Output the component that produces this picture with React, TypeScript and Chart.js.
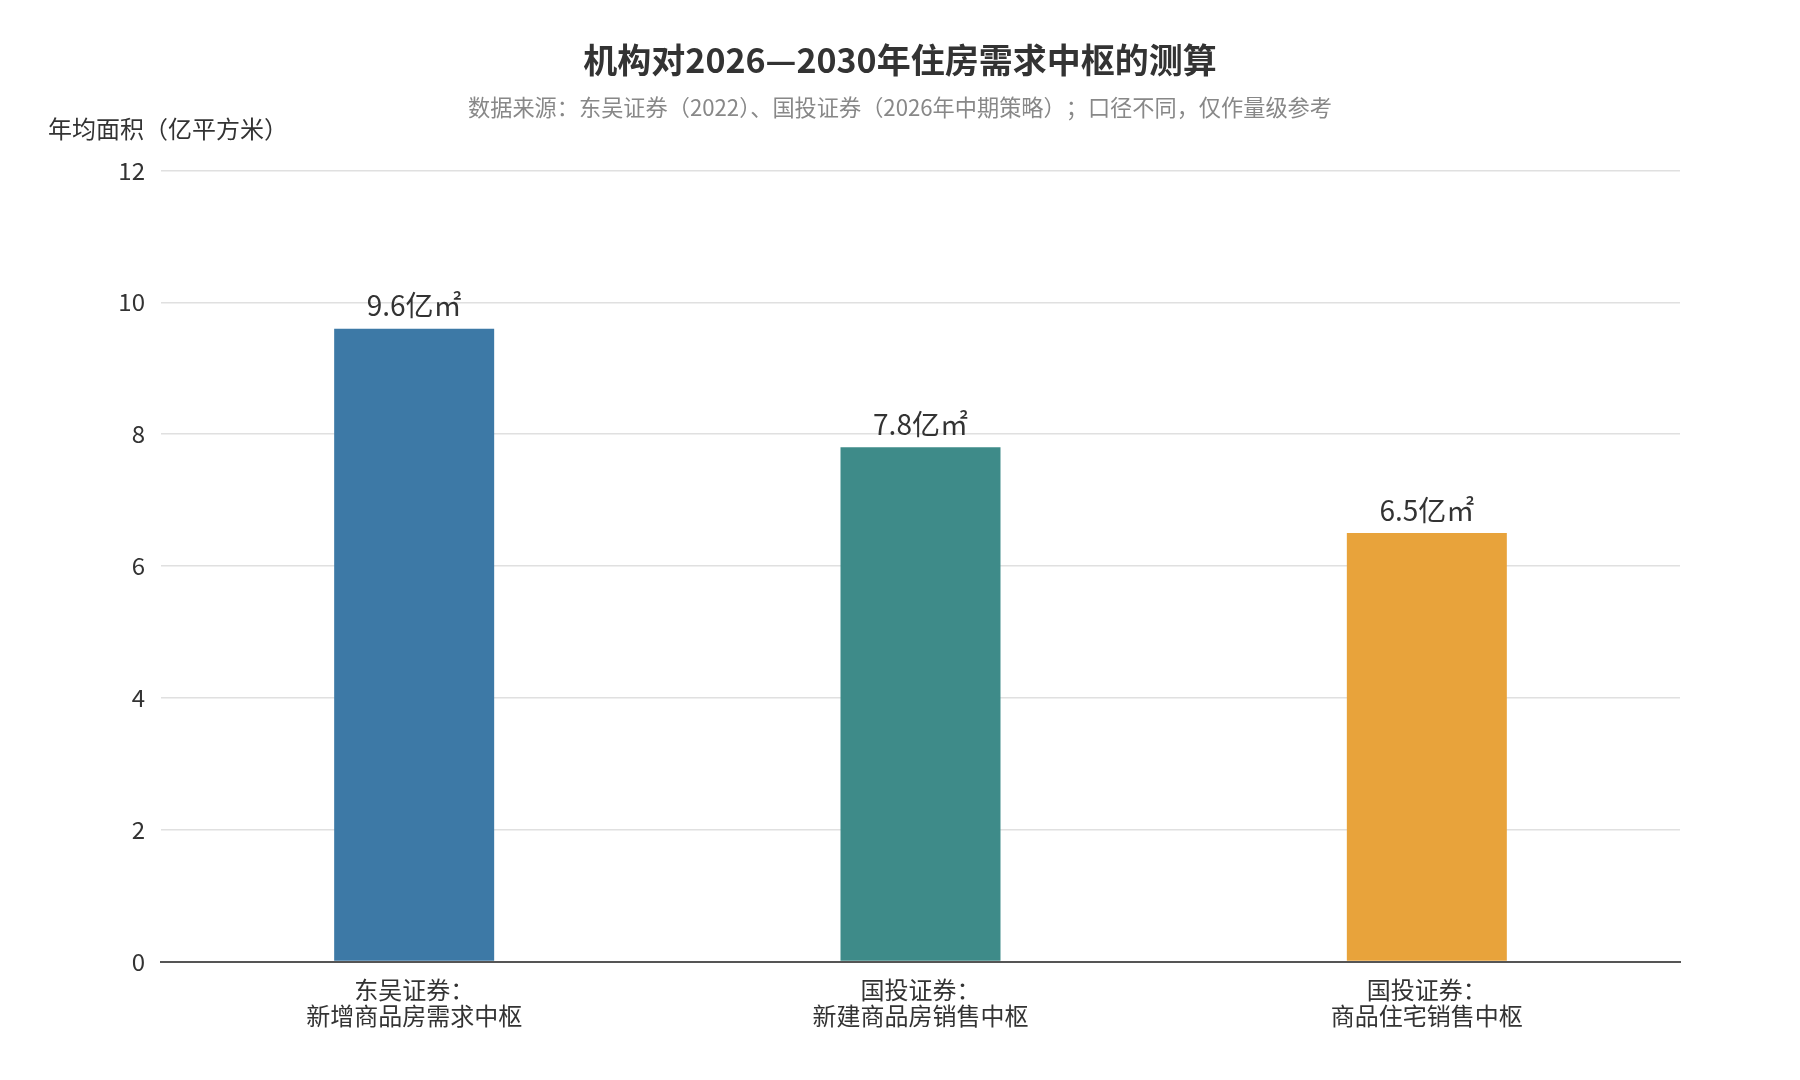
import { useEffect, useRef } from "react";
import Chart from "chart.js/auto";

const categories: string[][] = [
    ["东吴证券：", "新增商品房需求中枢"],
    ["国投证券：", "新建商品房销售中枢"],
    ["国投证券：", "商品住宅销售中枢"],
];
const values: number[] = [9.6, 7.8, 6.5];
const valueLabels: string[] = ["9.6亿㎡", "7.8亿㎡", "6.5亿㎡"];
const barColors: string[] = ["#3D79A6", "#3E8B89", "#E8A33B"];

const FONT = "'Noto Sans CJK SC', 'Noto Sans', sans-serif";

const valueLabelPlugin = {
    id: "valueLabels",
    afterDatasetsDraw(chart: Chart) {
        const ctx = chart.ctx;
        const meta = chart.getDatasetMeta(0);
        ctx.save();
        ctx.font = `28px ${FONT}`;
        ctx.fillStyle = "#333333";
        ctx.textAlign = "center";
        ctx.textBaseline = "bottom";
        meta.data.forEach((bar: any, i: number) => {
            ctx.fillText(valueLabels[i], bar.x, bar.y - 9);
        });
        ctx.restore();
    },
};

const yTitlePlugin = {
    id: "yTitle",
    afterDraw(chart: Chart) {
        const ctx = chart.ctx;
        const area = chart.chartArea;
        ctx.save();
        ctx.font = `24px ${FONT}`;
        ctx.fillStyle = "#333333";
        ctx.textAlign = "left";
        ctx.textBaseline = "middle";
        ctx.fillText("年均面积（亿平方米）", area.left - 113, area.top - 42);
        ctx.restore();
    },
};

export default function App() {
    const canvasRef = useRef<HTMLCanvasElement | null>(null);
    const chartRef = useRef<Chart | null>(null);

    useEffect(() => {
        if (!canvasRef.current) return;
        if (chartRef.current) chartRef.current.destroy();

        chartRef.current = new Chart(canvasRef.current, {
            type: "bar",
            data: {
                labels: categories,
                datasets: [
                    {
                        data: values,
                        backgroundColor: barColors,
                        barPercentage: 0.395,
                        categoryPercentage: 0.8,
                    },
                ],
            },
            options: {
                responsive: true,
                maintainAspectRatio: false,
                animation: false,
                layout: {
                    padding: { left: 120, right: 120, top: 0, bottom: 44 },
                },
                plugins: {
                    legend: { display: false },
                    tooltip: { enabled: false },
                    title: {
                        display: true,
                        text: "机构对2026—2030年住房需求中枢的测算",
                        color: "#333333",
                        font: { family: FONT, size: 34, weight: "bold" },
                        padding: { top: 40, bottom: 13 },
                    },
                    subtitle: {
                        display: true,
                        text: "数据来源：东吴证券（2022）、国投证券（2026年中期策略）；口径不同，仅作量级参考",
                        color: "#888888",
                        font: { family: FONT, size: 22.2 },
                        padding: { top: 0, bottom: 50 },
                    },
                },
                scales: {
                    x: {
                        grid: { display: false },
                        border: { display: true, color: "#555555", width: 2 },
                        ticks: {
                            color: "#333333",
                            font: { family: FONT, size: 24, lineHeight: 1.05 },
                            padding: 8,
                        },
                    },
                    y: {
                        min: 0,
                        max: 12,
                        afterFit(scale: any) {
                            scale.width = 41;
                        },
                        ticks: {
                            stepSize: 2,
                            color: "#333333",
                            font: { family: FONT, size: 24 },
                            padding: 16,
                        },
                        grid: { color: "#e0e0e0", lineWidth: 1.5, drawTicks: false },
                        border: { display: false },
                    },
                },
            },
            plugins: [valueLabelPlugin, yTitlePlugin],
        });

        return () => {
            if (chartRef.current) chartRef.current.destroy();
            chartRef.current = null;
        };
    }, []);

    return (
        <div style={{ position: "absolute", left: 0, top: 0, width: 1800, height: 1080, background: "#ffffff" }}>
            <canvas ref={canvasRef} />
        </div>
    );
}
